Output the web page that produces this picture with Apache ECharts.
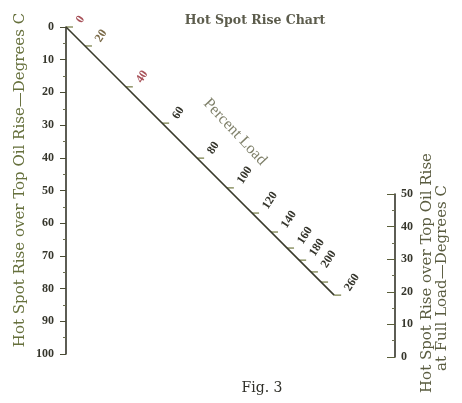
<!DOCTYPE html>
<html>
<head>
<meta charset="utf-8">
<script src="https://cdn.jsdelivr.net/npm/echarts@6/dist/echarts.min.js"></script>
<style>html,body{margin:0;padding:0;background:#fff}#c{width:462px;height:403px}</style>
</head>
<body>
<div id="c"></div>
<script>
// Percent-load scale on the diagonal: label and its reading on the left scale (deg C)
const loadLabels = ['0', '20', '40', '60', '80', '100', '120', '140', '160', '180', '200', '', '260'];
const loadPos = [0, 5.8, 18.3, 29.4, 40.1, 49.2, 56.9, 62.7, 67.6, 71.3, 74.9, 78.0, 82.0];
// Left scale: hot spot rise over top oil rise (deg C)
const leftMin = 0, leftMax = 100, leftStep = 10;
// Right scale: hot spot rise at full load (deg C)
const rightMin = 0, rightMax = 50, rightStep = 10;

const serif = '"Liberation Serif", "DejaVu Serif", serif';
const wide = '"DejaVu Serif", "Liberation Serif", serif';
const chart = echarts.init(document.getElementById('c'), null, {renderer: 'canvas'});

const diag = [[loadPos[0], loadPos[0]], [loadPos[loadPos.length - 1], loadPos[loadPos.length - 1]]];
const loadData = loadPos.map((p, i) => [p, p, loadLabels[i]]);

chart.setOption({
  animation: false,
  backgroundColor: '#fff',
  grid: [
    {left: 66, top: 27, width: 327, height: 327, outerBoundsMode: 'none'},
    {left: 395, top: 194, width: 20, height: 163, outerBoundsMode: 'none'}
  ],
  xAxis: [
    {gridIndex: 0, type: 'value', min: 0, max: 100, show: false},
    {gridIndex: 1, type: 'value', min: 0, max: 1, show: false}
  ],
  yAxis: [
    {
      gridIndex: 0, type: 'value', inverse: true, min: leftMin, max: leftMax, interval: leftStep,
      position: 'left',
      axisLine: {show: true, lineStyle: {color: '#34342a', width: 1.6}},
      axisTick: {show: true, length: 6, lineStyle: {color: '#4a4c34', width: 1}},
      minorTick: {show: true, splitNumber: 2, length: 3, lineStyle: {color: '#6a6c50'}},
      axisLabel: {margin: 12, fontFamily: serif, fontWeight: 'bold', fontSize: 12, color: '#36362c'},
      splitLine: {show: false}
    },
    {
      gridIndex: 1, type: 'value', min: rightMin, max: rightMax, interval: rightStep,
      position: 'left',
      axisLine: {show: true, lineStyle: {color: '#34342a', width: 1.6}},
      axisTick: {show: true, length: 8, lineStyle: {color: '#5a5e3a', width: 1}},
      minorTick: {show: true, splitNumber: 2, length: 3, lineStyle: {color: '#6a6c50'}},
      axisLabel: {inside: true, margin: 6, fontFamily: serif, fontWeight: 'bold', fontSize: 12, color: '#36362c'},
      splitLine: {show: false}
    }
  ],
  series: [
    {
      type: 'line', xAxisIndex: 0, yAxisIndex: 0, data: diag, symbol: 'none',
      lineStyle: {color: '#3a3b2c', width: 1.6}, silent: true
    },
    {
      type: 'custom', xAxisIndex: 0, yAxisIndex: 0, data: loadData, silent: true,
      renderItem: function (params, api) {
        const p = api.coord([api.value(0), api.value(1)]);
        const txt = loadLabels[params.dataIndex];
        const reddish = txt === '0' || txt === '40';
        const olive = txt === '20';
        return {
          type: 'group',
          children: [
            {type: 'line', shape: {x1: p[0], y1: p[1], x2: p[0] + 7, y2: p[1]},
             style: {stroke: '#7d8450', lineWidth: 1.3}},
            {type: 'text', x: p[0] + 13, y: p[1] - 5, rotation: 57 * Math.PI / 180,
             style: {text: txt, fill: reddish ? '#a8525a' : (olive ? '#7a6a48' : '#35352c'),
                     font: 'bold 12px ' + serif, align: 'left', verticalAlign: 'middle'}}
          ]
        };
      }
    }
  ],
  graphic: [
    {type: 'text', x: 255, y: 21, style: {text: 'Hot Spot Rise Chart', font: 'bold 12.5px ' + wide, fill: '#5c5c4c', align: 'center', verticalAlign: 'middle'}},
    {type: 'text', x: 20, y: 180, rotation: Math.PI / 2, style: {text: 'Hot Spot Rise over Top Oil Rise\u2014Degrees C', font: '15px ' + wide, fill: '#66703c', align: 'center', verticalAlign: 'middle'}},
    {type: 'text', x: 427, y: 273, rotation: Math.PI / 2, style: {text: 'Hot Spot Rise over Top Oil Rise', font: '15px ' + wide, fill: '#5a5c40', align: 'center', verticalAlign: 'middle'}},
    {type: 'text', x: 442, y: 278, rotation: Math.PI / 2, style: {text: 'at Full Load\u2014Degrees C', font: '15px ' + wide, fill: '#5a5c40', align: 'center', verticalAlign: 'middle'}},
    {type: 'text', x: 235, y: 132, rotation: -47 * Math.PI / 180, style: {text: 'Percent Load', font: '16px ' + serif, fill: '#7f806a', align: 'center', verticalAlign: 'middle'}},
    {type: 'text', x: 262, y: 388, style: {text: 'Fig. 3', font: '14px ' + wide, fill: '#2f2f28', align: 'center', verticalAlign: 'middle'}}
  ]
});
</script>
</body>
</html>
